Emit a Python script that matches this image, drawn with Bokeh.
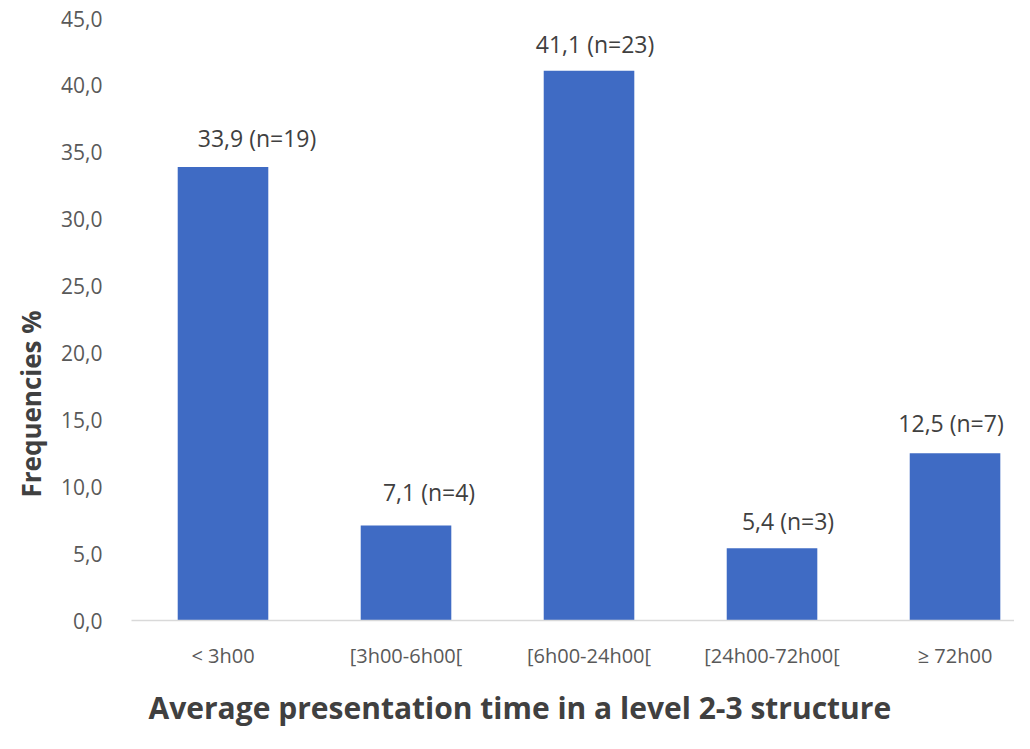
from bokeh.plotting import figure
from bokeh.models import ColumnDataSource, Range1d, FixedTicker, LabelSet, Title
from bokeh.core.properties import value
from bokeh.embed import file_html
from bokeh.resources import INLINE

categories = ["< 3h00", "[3h00-6h00[", "[6h00-24h00[", "[24h00-72h00[", "\u2265 72h00"]
frequencies = [33.9, 7.1, 41.1, 5.4, 12.5]
counts = [19, 4, 23, 3, 7]
y_ticks = [0, 5, 10, 15, 20, 25, 30, 35, 40, 45]

# screen-pixel nudges of the data labels, as placed in the original chart
label_dx = [34, 23, 6, 16, -4]
label_dy = [13, 18, 11, 11, 14]

positions = list(range(len(categories)))
labels = [f"{str(v).replace('.', ',')} (n={n})" for v, n in zip(frequencies, counts)]

src = ColumnDataSource(dict(x=positions, top=frequencies, label=labels,
                            dx=label_dx, dy=label_dy))

FONT = "Open Sans"
GREY = "#595959"
DARK = "#404040"

p = figure(width=1014, height=741, output_backend="svg", toolbar_location=None,
           x_range=Range1d(-0.5, 4.325), y_range=Range1d(0, 45),
           min_border_top=18, min_border_left=131, min_border_right=0, min_border_bottom=121)
p.outline_line_color = None
p.xgrid.grid_line_color = None
p.ygrid.grid_line_color = None

p.vbar(x="x", top="top", bottom=0, width=0.495, source=src,
       fill_color="#3f6bc4", line_color=None)

p.add_layout(LabelSet(x="x", y="top", text="label", source=src,
                      x_offset="dx", y_offset="dy",
                      text_align="center", text_baseline="bottom",
                      text_font=value(FONT), text_font_size="23px", text_color=DARK))

# x axis
p.xaxis.ticker = FixedTicker(ticks=positions)
p.xaxis.major_label_overrides = {i: c for i, c in enumerate(categories)}
p.xaxis.axis_line_color = "#d9d9d9"
p.xaxis.axis_line_width = 1.5
p.xaxis.major_tick_line_color = None
p.xaxis.minor_tick_line_color = None
p.xaxis.major_label_text_font = FONT
p.xaxis.major_label_text_font_size = "20px"
p.xaxis.major_label_text_color = GREY
p.xaxis.major_label_standoff = 15

p.add_layout(Title(text="Average presentation time in a level 2-3 structure",
                   align="left", offset=17, standoff=26,
                   text_font=FONT, text_font_style="bold", text_font_size="30px",
                   text_color=DARK), "below")

# y axis
p.yaxis.ticker = FixedTicker(ticks=y_ticks)
p.yaxis.major_label_overrides = {t: f"{t},0" for t in y_ticks}
p.yaxis.axis_line_color = None
p.yaxis.major_tick_line_color = None
p.yaxis.minor_tick_line_color = None
p.yaxis.major_label_text_font = FONT
p.yaxis.major_label_text_font_size = "21px"
p.yaxis.major_label_text_color = GREY
p.yaxis.major_label_standoff = 23

p.add_layout(Title(text="Frequencies %", align="left", offset=123, standoff=20,
                   text_font=FONT, text_font_style="bold", text_font_size="26px",
                   text_color=DARK), "left")

open("out.html", "w").write(file_html(p, INLINE))
